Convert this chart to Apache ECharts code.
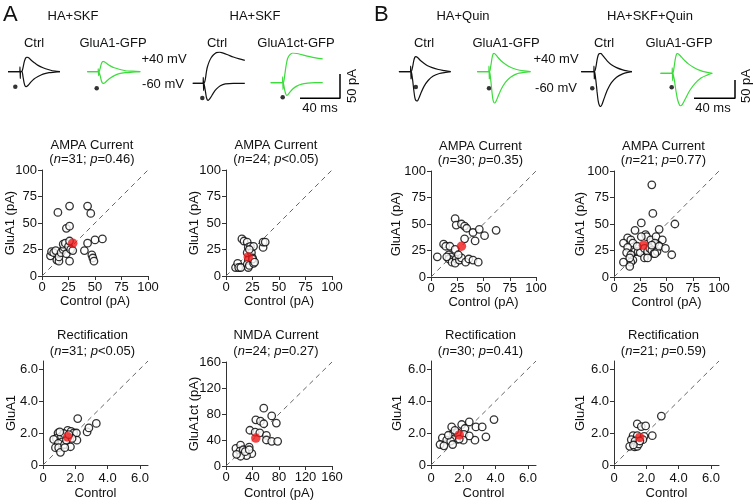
<!DOCTYPE html>
<html>
<head>
<meta charset="utf-8">
<script src="https://cdn.jsdelivr.net/npm/echarts@6.0.0/dist/echarts.min.js"></script>
<style>
html,body{margin:0;padding:0;background:#fff;}
#chart{width:754px;height:501px;}
</style>
</head>
<body>
<div id="chart"></div>
<script>
// ================= DATA =================
const ampaTicks = [0, 25, 50, 75, 100];
const nmdaTicks = [0, 40, 80, 120, 160];
const rectTicks = [0, 2, 4, 6];

// A, HA+SKF, GluA1-GFP : AMPA current [control pA, GluA1 pA]
const ampaSkfGluA1 = [[15,60],[26,66],[43,66],[46,59],[23,45],[26,47],[8,19],[9,23],[11,22],[13,24],[14,15],[16,14],[16,18],[18,22],[20,25],[21,27],[20,30],[22,31],[23,21],[25,28],[26,33],[27,25],[26,14],[29,24],[40,24],[43,31],[47,20],[48,17],[49,14],[50,34],[57,35]];
const ampaSkfGluA1Mean = [[29,31]];
// A, HA+SKF, GluA1ct-GFP : AMPA current
const ampaSkfCt = [[9,8],[11,12],[12,8],[14,8],[15,35],[17,33],[20,32],[21,27],[20,22],[21,15],[20,11],[21,8],[22,10],[23,28],[24,22],[25,17],[26,12],[25,16],[26,28],[27,13],[35,27],[35,32],[37,32],[22,25]];
const ampaSkfCtMean = [[21,18]];
// B, HA+Quin : AMPA current
const ampaQuin = [[23,55],[24,49],[29,50],[32,48],[34,46],[40,42],[46,45],[51,39],[62,44],[42,34],[32,36],[12,31],[14,29],[18,29],[23,26],[6,19],[17,21],[19,19],[17,17],[20,14],[24,17],[23,13],[27,16],[29,18],[33,14],[36,17],[40,16],[45,14],[26,21],[15,19]];
const ampaQuinMean = [[29,29]];
// B, HA+SKF+Quin : AMPA current
const ampaSkfQuin = [[36,87],[37,60],[58,50],[26,51],[20,44],[43,45],[30,40],[31,38],[13,37],[9,32],[16,35],[18,32],[26,38],[35,35],[40,38],[46,35],[42,30],[39,32],[13,28],[12,23],[20,24],[23,24],[25,23],[29,27],[32,24],[34,27],[36,25],[38,22],[41,24],[43,29],[49,27],[55,21],[39,22],[29,18],[32,18],[16,21],[18,16],[16,14],[15,10],[9,14],[15,18],[22,29],[36,30]];
const ampaSkfQuinMean = [[28,30]];
// A, HA+SKF, GluA1-GFP : rectification
const rectSkfGluA1 = [[2.15,2.9],[3.3,2.6],[2.73,2.07],[2.84,2.32],[0.93,2.0],[0.83,1.66],[0.66,1.6],[1.14,1.8],[1.18,1.45],[0.95,1.35],[0.77,1.08],[0.97,1.08],[1.08,0.79],[1.33,1.28],[1.45,1.55],[1.53,2.17],[1.74,2.1],[1.9,2.0],[2.07,2.0],[2.1,1.55],[1.7,1.14],[1.8,1.66],[1.28,1.97],[1.35,1.08],[1.04,2.07],[1.6,1.9]];
const rectSkfGluA1Mean = [[1.53,1.76]];
// A, HA+SKF, GluA1ct-GFP : NMDA current
const nmdaSkfCt = [[57,89],[69,77],[76,66],[45,71],[52,69],[57,65],[36,55],[44,52],[51,51],[61,47],[61,40],[69,38],[78,38],[15,27],[22,32],[21,23],[26,25],[35,29],[39,19],[31,16],[22,15],[16,18],[29,22],[35,25]];
const nmdaSkfCtMean = [[45,43]];
// B, HA+Quin : rectification
const rectQuin = [[3.9,2.84],[2.37,2.69],[2.78,2.38],[3.17,2.38],[3.4,1.76],[2.72,1.55],[1.9,2.53],[2.1,2.28],[1.28,2.38],[2.04,1.91],[2.37,1.82],[2.0,1.55],[1.6,1.6],[1.38,1.97],[1.35,1.6],[0.7,1.7],[0.97,1.55],[1.22,1.49],[0.56,1.28],[0.8,1.2],[1.34,1.28],[1.63,2.02],[1.75,1.62],[1.48,2.17],[1.07,1.86]];
const rectQuinMean = [[1.75,1.88]];
// B, HA+SKF+Quin : rectification
const rectSkfQuin = [[2.93,3.06],[1.44,2.57],[1.69,2.4],[1.96,2.44],[2.37,1.83],[1.18,1.83],[1.44,1.83],[1.86,1.79],[1.79,1.58],[1.07,1.58],[1.3,1.5],[0.97,1.17],[1.28,1.13],[1.44,1.17],[1.53,1.32],[1.6,1.5],[1.2,1.25]];
const rectSkfQuinMean = [[1.59,1.72]];

// Example traces [time ms from stimulus, current pA]
const trA1Pos = [[-12,0],[0,0],[2,1],[3,8],[4,18],[5,25],[6,29],[7,30],[9,28],[11,24],[14,19],[18,13],[23,8],[29,4],[35,1],[40,0]];
const trA1Neg = [[-12,0],[-0.3,0],[0,10],[0.3,-14],[0.6,0],[2,0],[3,-10],[4,-22],[5,-29],[6,-31],[7,-30],[9,-26],[11,-21],[14,-15],[18,-10],[23,-5],[29,-2],[35,-1],[40,0]];
const trA1Dot = [-4.7,-31];
const trA2Pos = [[-11,0],[0,0],[1,1],[2,8],[3,16],[4,20],[5,21],[7,19],[9,16],[12,12],[16,8],[21,5],[27,2],[34,1],[42,0]];
const trA2Neg = [[-11,0],[-0.3,0],[0,6],[0.3,-8],[0.6,0],[1,0],[2,-9],[3,-18],[4,-23],[5,-24],[7,-22],[9,-18],[12,-13],[16,-8],[21,-4],[27,-2],[34,-1],[42,0]];
const trA2Dot = [-1.6,-34];
const trA3Pos = [[-10.5,0],[0,0],[1,1],[2,8],[3,22],[4,33],[6,45],[8,53],[10,58],[13,63],[16,64],[20,62],[25,58],[30,54],[36,50],[41.5,47]];
const trA3Neg = [[-10.5,0],[-0.3,0],[0,12],[0.3,-15],[0.6,0],[1,-3],[2,-15],[3,-28],[4,-34],[5,-35],[6,-33],[8,-27],[10,-20],[13,-12],[17,-5],[22,-1],[30,0],[41.5,0]];
const trA3Dot = [-1,-30];
const trA4Pos = [[-12,0],[0,0],[1,2],[2,15],[3,30],[4,42],[5,50],[7,57],[10,61],[14,60],[20,57],[26,54],[33,51],[40,49]];
const trA4Neg = [[-12,0],[-0.3,0],[0,12],[0.3,-14],[0.6,0],[1,-4],[2,-15],[3,-23],[4,-26],[5,-25],[7,-20],[10,-13],[14,-7],[19,-3],[25,-1],[32,0],[40,0]];
const trA4Dot = [0,-30];
const trB1Pos = [[-11.5,0],[0,0],[1,3],[2,15],[3,30],[4,39],[5,41],[7,38],[9,32],[12,25],[16,17],[21,11],[27,6],[33,3],[39,0]];
const trB1Neg = [[-11.5,0],[-0.3,0],[0,15],[0.3,-20],[0.6,0],[1,-5],[2,-25],[3,-50],[4,-70],[5,-78],[6.5,-80],[8,-72],[10,-58],[13,-40],[17,-24],[22,-12],[28,-5],[34,-2],[39,0]];
const trB1Dot = [5,-42];
const trB2Pos = [[-11.5,0],[0,0],[1,4],[2,20],[3,38],[4,48],[5,50],[7,45],[9,38],[12,29],[16,20],[21,12],[27,6],[34,2],[40.5,0]];
const trB2Neg = [[-11.5,0],[-0.3,0],[0,15],[0.3,-20],[0.6,0],[1,-6],[2,-30],[3,-58],[4,-78],[5.5,-86],[7,-80],[9,-66],[12,-47],[16,-29],[21,-15],[27,-6],[34,-2],[40.5,0]];
const trB2Dot = [0,-45];
const trB3Pos = [[-12.5,0],[0,0],[1,3],[2,15],[3,32],[4,44],[5,49],[6.5,50],[8,46],[10,39],[13,29],[17,19],[22,11],[28,5],[33,2],[37,0]];
const trB3Neg = [[-12.5,0],[-0.3,0],[0,15],[0.3,-20],[0.6,0],[1,-6],[2,-28],[3,-55],[4,-78],[5,-90],[6.5,-95],[8,-88],[10,-72],[13,-50],[17,-30],[22,-15],[28,-6],[33,-2],[37,0]];
const trB3Dot = [-1.7,-45];
const trB4Pos = [[-11.5,0],[0,0],[1,4],[2,22],[3,40],[4,51],[5,54],[7,50],[9,44],[12,35],[16,25],[21,16],[27,8],[33,3],[39,0]];
const trB4Neg = [[-11.5,0],[-0.3,0],[0,15],[0.3,-20],[0.6,0],[1,-4],[2,-18],[3,-38],[4,-55],[5,-70],[6.5,-83],[8,-89],[10,-84],[13,-68],[17,-47],[22,-28],[28,-13],[34,-5],[39,0]];
const trB4Dot = [-0.6,-38];
// scale bar: 40 ms, 50 pA
const scaleBar = [[0,0],[40,0],[40,50]];

// ================= CHART =================
const FONT = '"Liberation Sans", Arial, Helvetica, sans-serif';
const INK = '#111';
const GREEN = '#3bdc3b';
const fmtInt = v => String(v);
const fmtRect = v => v === 0 ? '0' : v.toFixed(1);

const scatterPanels = [
  {left:42, top:170, w:106, h:106, max:100, step:25, ticks:ampaTicks, fmt:fmtInt, data:ampaSkfGluA1, mean:ampaSkfGluA1Mean, title:'AMPA Current', n:'31', p:'=0.46', xName:'Control (pA)', yName:'GluA1 (pA)', yGap:25, xGap:19, xm:5, t1:145, t2:159},
  {left:226, top:170, w:106, h:106, max:100, step:25, ticks:ampaTicks, fmt:fmtInt, data:ampaSkfCt, mean:ampaSkfCtMean, title:'AMPA Current', n:'24', p:'<0.05', xName:'Control (pA)', yName:'GluA1 (pA)', yGap:25, xGap:19, xm:5, t1:145, t2:159},
  {left:431, top:171, w:105, h:106, max:100, step:25, ticks:ampaTicks, fmt:fmtInt, data:ampaQuin, mean:ampaQuinMean, title:'AMPA Current', n:'30', p:'=0.35', xName:'Control (pA)', yName:'GluA1 (pA)', yGap:28, xGap:19, xm:5, t1:146, t2:160},
  {left:614, top:171, w:105, h:106, max:100, step:25, ticks:ampaTicks, fmt:fmtInt, data:ampaSkfQuin, mean:ampaSkfQuinMean, title:'AMPA Current', n:'21', p:'=0.77', xName:'Control (pA)', yName:'GluA1 (pA)', yGap:27, xGap:19, xm:5, t1:146, t2:160},
  {left:43, top:361, w:105, h:104, max:6.5, step:2, ticks:rectTicks, fmt:fmtRect, data:rectSkfGluA1, mean:rectSkfGluA1Mean, title:'Rectification', n:'31', p:'<0.05', xName:'Control', yName:'GluA1', yGap:25, xGap:22, xm:7, t1:335, t2:351},
  {left:226, top:362, w:106, h:104, max:160, step:40, ticks:nmdaTicks, fmt:fmtInt, data:nmdaSkfCt, mean:nmdaSkfCtMean, title:'NMDA Current', n:'24', p:'=0.27', xName:'Control (pA)', yName:'GluA1ct (pA)', yGap:25, xGap:21, xm:5, t1:335, t2:351},
  {left:431, top:361, w:105, h:104, max:6.5, step:2, ticks:rectTicks, fmt:fmtRect, data:rectQuin, mean:rectQuinMean, title:'Rectification', n:'30', p:'=0.41', xName:'Control', yName:'GluA1', yGap:27, xGap:22, xm:7, t1:335, t2:351},
  {left:614, top:361, w:105, h:104, max:6.5, step:2, ticks:rectTicks, fmt:fmtRect, data:rectSkfQuin, mean:rectSkfQuinMean, title:'Rectification', n:'21', p:'=0.59', xName:'Control', yName:'GluA1', yGap:27, xGap:22, xm:7, t1:335, t2:351}
];

const SX_A = 1.0, SY_A = 0.487, SX_B = 1.025, SY_B = 0.367;
const tracePanels = [
  {x0:20,    y0:71.7, sx:SX_A, sy:SY_A, color:INK,   pos:trA1Pos, neg:trA1Neg, dot:trA1Dot},
  {x0:98.3,  y0:71.7, sx:SX_A, sy:SY_A, color:GREEN, pos:trA2Pos, neg:trA2Neg, dot:trA2Dot},
  {x0:203.3, y0:83.3, sx:SX_A, sy:SY_A, color:INK,   pos:trA3Pos, neg:trA3Neg, dot:trA3Dot},
  {x0:282.7, y0:82.7, sx:SX_A, sy:SY_A, color:GREEN, pos:trA4Pos, neg:trA4Neg, dot:trA4Dot},
  {x0:410.7, y0:71.7, sx:SX_B, sy:SY_B, color:INK,   pos:trB1Pos, neg:trB1Neg, dot:trB1Dot},
  {x0:489,   y0:71.7, sx:SX_B, sy:SY_B, color:GREEN, pos:trB2Pos, neg:trB2Neg, dot:trB2Dot},
  {x0:594,   y0:71.7, sx:SX_B, sy:SY_B, color:INK,   pos:trB3Pos, neg:trB3Neg, dot:trB3Dot},
  {x0:672.3, y0:73.3, sx:SX_B, sy:SY_B, color:GREEN, pos:trB4Pos, neg:trB4Neg, dot:trB4Dot}
];
const scalePanels = [
  {cx:340, cy:98.3, sx:SX_A, sy:SY_A},
  {cx:735, cy:98.3, sx:SX_B, sy:SY_B}
];

const grids = [], xAxes = [], yAxes = [], series = [], elements = [];

function txt(x, y, text, o) {
  o = o || {};
  const el = {
    type:'text', x:x, y:y, silent:true, z:100,
    style:{text:text, fontSize:o.size||13, fontFamily:FONT, fill:INK,
      align:o.align||'center', verticalAlign:'middle',
      textAlign:o.align||'center', textVerticalAlign:'middle'}
  };
  if (o.rich) el.style.rich = o.rich;
  if (o.rotation) el.rotation = o.rotation;
  return el;
}
const italicRich = {i:{fontStyle:'italic', fontSize:13, fontFamily:FONT, fill:INK, color:INK}, r:{fontSize:13, fontFamily:FONT, fill:INK, color:INK}};

// scatter panels
scatterPanels.forEach(function(p){
  const gi = grids.length;
  grids.push({left:p.left, top:p.top, width:p.w, height:p.h, containLabel:false, outerBoundsMode:'none'});
  function ax(isX){
    return {
      type:'value', gridIndex:gi, min:0, max:p.max, interval:p.step,
      axisLine:{show:true, onZero:false, lineStyle:{color:'#333', width:1}},
      axisTick:{show:true, inside:false, length:4, lineStyle:{color:'#333', width:1}, customValues:p.ticks},
      axisLabel:{show:true, customValues:p.ticks, formatter:p.fmt, fontSize:13, color:INK, fontFamily:FONT, margin: isX ? p.xm : 5, hideOverlap:false},
      splitLine:{show:false},
      name: isX ? p.xName : p.yName, nameLocation:'middle', nameGap: isX ? p.xGap : p.yGap,
      nameMoveOverlap:false,
      nameTextStyle:{fontSize:13, color:INK, fontFamily:FONT}
    };
  }
  xAxes.push(ax(true));
  yAxes.push(ax(false));
  series.push({type:'line', xAxisIndex:gi, yAxisIndex:gi, data:[[0,0],[p.max,p.max]], symbol:'none', silent:true, z:1,
    lineStyle:{color:'#666', width:1, type:[5,4]}});
  series.push({type:'scatter', xAxisIndex:gi, yAxisIndex:gi, data:p.data, symbol:'circle', symbolSize:7.5, z:3, silent:true,
    itemStyle:{color:'#fff', borderColor:'#000', borderWidth:1.3}});
  series.push({type:'scatter', xAxisIndex:gi, yAxisIndex:gi, data:p.mean, symbol:'circle', symbolSize:9.5, z:4, silent:true,
    itemStyle:{color:'#f01818', borderWidth:0}});
  const cx = p.left + p.w/2 - 3;
  elements.push(txt(cx, p.t1, p.title));
  elements.push(txt(cx, p.t2, '{r|(}{i|n}{r|=' + p.n + '; }{i|p}{r|' + p.p + ')}', {rich:italicRich}));
});

// trace panels
tracePanels.forEach(function(t){
  const all = t.pos.concat(t.neg, [t.dot]);
  const ts = all.map(d => d[0]), is = all.map(d => d[1]);
  const tmin = Math.min.apply(null, ts), tmax = Math.max.apply(null, ts);
  const imin = Math.min.apply(null, is), imax = Math.max.apply(null, is);
  const gi = grids.length;
  grids.push({left:t.x0 + tmin*t.sx, top:t.y0 - imax*t.sy, width:(tmax-tmin)*t.sx, height:(imax-imin)*t.sy, containLabel:false, outerBoundsMode:'none'});
  xAxes.push({type:'value', gridIndex:gi, min:tmin, max:tmax, show:false, splitLine:{show:false}});
  yAxes.push({type:'value', gridIndex:gi, min:imin, max:imax, show:false, splitLine:{show:false}});
  [t.neg, t.pos].forEach(function(d){
    series.push({type:'line', xAxisIndex:gi, yAxisIndex:gi, data:d, symbol:'none', silent:true, smooth:0.25,
      lineStyle:{color:t.color, width:1.2}});
  });
  series.push({type:'scatter', xAxisIndex:gi, yAxisIndex:gi, data:[t.dot], symbol:'circle', symbolSize:4.5, silent:true,
    itemStyle:{color:'#000'}});
});

// scale bars
scalePanels.forEach(function(s){
  const gi = grids.length;
  grids.push({left:s.cx - 40*s.sx, top:s.cy - 50*s.sy, width:40*s.sx, height:50*s.sy, containLabel:false, outerBoundsMode:'none'});
  xAxes.push({type:'value', gridIndex:gi, min:0, max:40, show:false, splitLine:{show:false}});
  yAxes.push({type:'value', gridIndex:gi, min:0, max:50, show:false, splitLine:{show:false}});
  series.push({type:'line', xAxisIndex:gi, yAxisIndex:gi, data:scaleBar, symbol:'none', silent:true,
    lineStyle:{color:'#000', width:1.5}});
});

// header texts
elements.push(txt(3, 15, 'A', {size:22, align:'left'}));
elements.push(txt(374, 15, 'B', {size:22, align:'left'}));
elements.push(txt(73, 16, 'HA+SKF'));
elements.push(txt(255, 16, 'HA+SKF'));
elements.push(txt(463, 16, 'HA+Quin'));
elements.push(txt(650, 16, 'HA+SKF+Quin'));
elements.push(txt(34, 43, 'Ctrl'));
elements.push(txt(113, 43, 'GluA1-GFP'));
elements.push(txt(217, 43, 'Ctrl'));
elements.push(txt(296, 43, 'GluA1ct-GFP'));
elements.push(txt(424, 43, 'Ctrl'));
elements.push(txt(506, 43, 'GluA1-GFP'));
elements.push(txt(604, 43, 'Ctrl'));
elements.push(txt(679, 43, 'GluA1-GFP'));
elements.push(txt(164, 59, '+40 mV'));
elements.push(txt(163, 84, '-60 mV'));
elements.push(txt(556, 59, '+40 mV'));
elements.push(txt(556, 88, '-60 mV'));
elements.push(txt(320, 108, '40 ms'));
elements.push(txt(713, 108, '40 ms'));
elements.push(txt(352, 86, '50 pA', {rotation:Math.PI/2}));
elements.push(txt(746, 86, '50 pA', {rotation:Math.PI/2}));

const chart = echarts.init(document.getElementById('chart'), null, {renderer:'canvas', width:754, height:501});
chart.setOption({
  animation:false,
  backgroundColor:'#fff',
  textStyle:{fontFamily:FONT},
  grid:grids, xAxis:xAxes, yAxis:yAxes, series:series,
  graphic:{elements:elements}
});
</script>
</body>
</html>
